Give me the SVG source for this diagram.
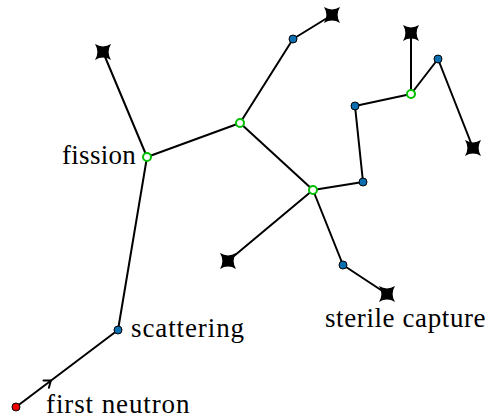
<svg xmlns="http://www.w3.org/2000/svg" width="490" height="418" viewBox="0 0 490 418">
<defs>
<style>
.e{stroke:#000;stroke-width:2;fill:none;stroke-linecap:round}
.b{fill:#0b6fb0;stroke:#000;stroke-width:1}
.g{fill:#fff;stroke:#00c000;stroke-width:2}
.r{fill:#f00000;stroke:#000;stroke-width:1}
text{font-family:"Liberation Serif","Times New Roman",serif;font-size:27px;letter-spacing:0.9px;fill:#000}
</style>
<path id="star" d="M-8,-8 Q0,-3.2 8,-8 Q3.2,0 8,8 Q0,3.2 -8,8 Q-3.2,0 -8,-8 Z"/>
</defs>
<rect width="490" height="418" fill="#fff"/>
<g id="connectors">
<path class="e" d="M16,407 L118,330"/>
<path class="e" d="M118,330 L147,157"/>
<path class="e" d="M147,157 L103,52"/>
<path class="e" d="M147,157 L240,123"/>
<path class="e" d="M240,123 L293,39"/>
<path class="e" d="M293,39 L332,15"/>
<path class="e" d="M240,123 L313,190"/>
<path class="e" d="M313,190 L228,261"/>
<path class="e" d="M313,190 L343,265"/>
<path class="e" d="M343,265 L387,294"/>
<path class="e" d="M313,190 L363,182"/>
<path class="e" d="M363,182 L355,106"/>
<path class="e" d="M355,106 L411,94"/>
<path class="e" d="M411,94 L411,33"/>
<path class="e" d="M411,94 L438,59"/>
<path class="e" d="M438,59 L473,148"/>
<path class="e" d="M-6,-4.5 Q-1.5,-1 0,0 Q-1.5,1 -6,4.5" transform="translate(51,380.5) rotate(-37)"/>
</g>
<g id="n-first"><circle class="r" cx="16" cy="407" r="4"/><text x="46" y="413">first neutron</text></g>
<g id="n-scatter"><circle class="b" cx="118" cy="330" r="4"/><text x="131" y="337">scattering</text></g>
<g id="n-fission"><circle class="g" cx="147" cy="157" r="4"/><text x="62" y="164" style="letter-spacing:0.3px">fission</text></g>
<g id="x1"><use href="#star" x="103" y="52"/></g>
<g id="g2"><circle class="g" cx="240" cy="123" r="4"/></g>
<g id="b1"><circle class="b" cx="293" cy="39" r="4"/></g>
<g id="x2"><use href="#star" x="332" y="15"/></g>
<g id="g3"><circle class="g" cx="313" cy="190" r="4"/></g>
<g id="x3"><use href="#star" x="228" y="261"/></g>
<g id="b2"><circle class="b" cx="343" cy="265" r="4"/></g>
<g id="x4"><use href="#star" x="387" y="294"/><text x="325" y="327" style="letter-spacing:0.6px">sterile capture</text></g>
<g id="b3"><circle class="b" cx="363" cy="182" r="4"/></g>
<g id="b4"><circle class="b" cx="355" cy="106" r="4"/></g>
<g id="g4"><circle class="g" cx="411" cy="94" r="4"/></g>
<g id="x5"><use href="#star" x="411" y="33"/></g>
<g id="b5"><circle class="b" cx="438" cy="59" r="4"/></g>
<g id="x6"><use href="#star" x="473" y="148"/></g>
</svg>
